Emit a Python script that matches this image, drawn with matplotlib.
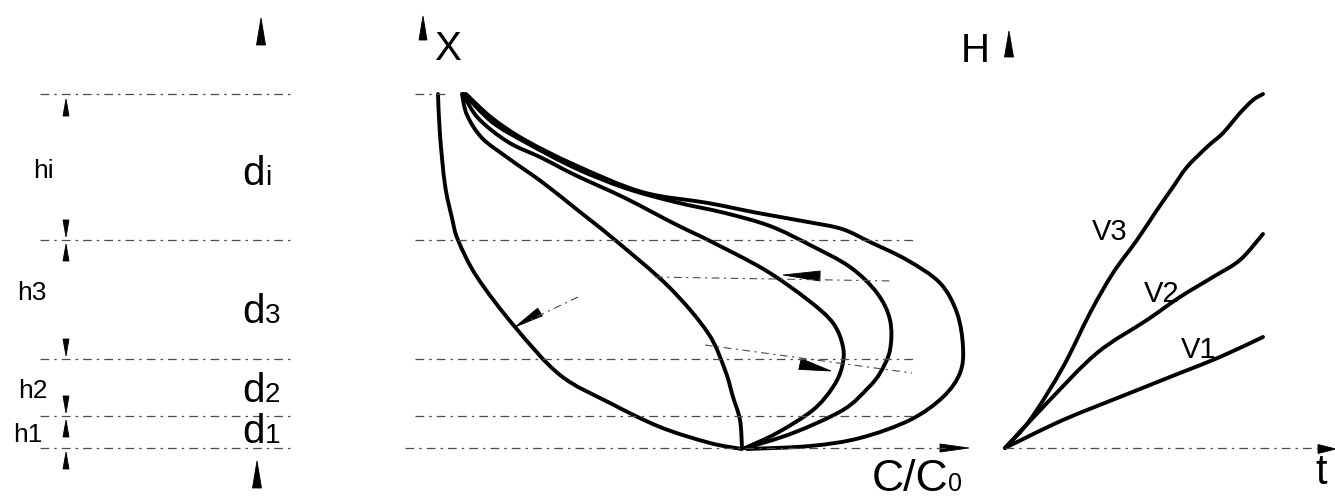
import numpy as np
import matplotlib
matplotlib.use('Agg')
import matplotlib.pyplot as plt
from matplotlib.path import Path
from matplotlib.patches import PathPatch, Polygon

plt.rcParams['font.family'] = ['Liberation Sans', 'DejaVu Sans']

# Layer boundaries (depth positions, drawing units)
layer_levels = [94, 240, 359, 416, 448]
layer_names = ['i', '3', '2', '1']

# Concentration profiles C/C0 versus depth X
curve_a_x = [438, 440, 445, 452, 458, 477, 515, 560, 610, 660, 710, 742]
curve_a_y = [94, 135, 185, 218, 240, 277, 327, 375, 403, 427, 443, 449]

curve_b_x = [462, 467, 482, 508, 542, 575, 615, 669, 708, 725, 733, 740, 742]
curve_b_y = [94, 115, 138, 158, 182, 208, 240, 287, 333, 370, 397, 420, 448]

curve_c_x = [463, 478, 508, 542, 575, 625, 675, 712, 765, 808, 833, 843, 842, 833, 813, 777, 745]
curve_c_y = [94, 118, 142, 158, 175, 198, 224, 242, 270, 300, 323, 347, 367, 387, 410, 433, 448]

curve_d_x = [464, 492, 525, 575, 625, 675, 725, 770, 810, 850, 877, 890, 890, 880, 868, 843, 793, 746]
curve_d_y = [94, 122, 142, 168, 188, 202, 213, 226, 245, 267, 293, 320, 350, 373, 388, 410, 433, 448]

curve_e_x = [466, 492, 525, 575, 642, 708, 758, 808, 842, 870, 907, 940, 957, 963, 960, 943, 910, 860, 810, 747]
curve_e_y = [94, 118, 140, 165, 192, 203, 213, 222, 229, 242, 260, 283, 313, 347, 373, 397, 420, 438, 446, 449]

# Height H versus time t for three velocities
v3_x = [1005, 1030, 1063, 1090, 1113, 1137, 1157, 1173, 1187, 1207, 1223, 1240, 1253, 1263]
v3_y = [448, 420, 367, 313, 273, 240, 210, 187, 167, 147, 133, 113, 100, 94]
v2_x = [1005, 1047, 1097, 1147, 1180, 1213, 1240, 1263]
v2_y = [448, 403, 353, 320, 297, 277, 260, 234]
v1_x = [1005, 1063, 1130, 1180, 1220, 1263]
v1_y = [448, 420, 393, 373, 357, 337]
velocity_names = ['V3', 'V2', 'V1']


def smooth_path(xs, ys):
    # Catmull-Rom through the points, expressed as cubic Bezier segments
    pts = np.column_stack([xs, ys]).astype(float)
    n = len(pts)
    verts = [pts[0]]
    codes = [Path.MOVETO]
    for i in range(n - 1):
        p0 = pts[max(i - 1, 0)]
        p1 = pts[i]
        p2 = pts[i + 1]
        p3 = pts[min(i + 2, n - 1)]
        verts += [p1 + (p2 - p0) / 6, p2 - (p3 - p1) / 6, p2]
        codes += [Path.CURVE4] * 3
    return Path(verts, codes)


def draw_curve(ax, xs, ys, lw=2.8):
    ax.add_patch(PathPatch(smooth_path(xs, ys), fill=False, lw=lw, edgecolor='black',
                           capstyle='round', joinstyle='round'))


def wedge(ax, tip, base, half_w):
    tip = np.array(tip, float)
    base = np.array(base, float)
    d = tip - base
    nrm = np.array([-d[1], d[0]]) / np.hypot(*d)
    ax.add_patch(Polygon([tip, base + nrm * half_w, base - nrm * half_w],
                         closed=True, facecolor='black', edgecolor='black', lw=0.6))


def dashed(ax, x0, x1, y0, y1=None, lw=0.9):
    if y1 is None:
        y1 = y0
    ax.plot([x0, x1], [y0, y1], color='0.3', lw=lw, dashes=(7, 4, 2, 4))


fig = plt.figure(figsize=(13.35, 4.98), dpi=100)
ax = fig.add_axes([0, 0, 1, 1])
ax.set_xlim(0, 1335)
ax.set_ylim(498, 0)
ax.axis('off')

# layer boundary lines
for i, y in enumerate(layer_levels):
    dashed(ax, 40, 290, y)
    if i == 0:
        dashed(ax, 415, 450, y)
    elif y == layer_levels[-1]:
        dashed(ax, 405, 945, y)
    else:
        dashed(ax, 415, 915, y)
dashed(ax, 1005, 1318, layer_levels[-1])

# dimension arrows for the layer thicknesses
ax_x = 66
wedge(ax, (ax_x, layer_levels[0] + 5), (ax_x, layer_levels[0] + 22), 3)
for y in layer_levels[1:4]:
    wedge(ax, (ax_x, y - 3), (ax_x, y - 20), 3)
for y in [layer_levels[1], layer_levels[3], layer_levels[4]]:
    wedge(ax, (ax_x, y + 4), (ax_x, y + 21), 3)

# axis arrowheads
wedge(ax, (261, 18), (261, 45), 4.5)
wedge(ax, (257, 461), (257, 488), 4.5)
wedge(ax, (423, 16), (423, 40), 4)
wedge(ax, (1009, 31), (1009, 57), 4.5)
wedge(ax, (969, 448), (940, 448), 4)
wedge(ax, (1336, 449), (1318, 449), 4.5)

# concentration profiles
for xs, ys in [(curve_a_x, curve_a_y), (curve_b_x, curve_b_y), (curve_c_x, curve_c_y),
               (curve_d_x, curve_d_y), (curve_e_x, curve_e_y)]:
    draw_curve(ax, xs, ys)

# shift arrows between profiles
dashed(ax, 578, 530, 297, 320, lw=0.8)
wedge(ax, (515, 327), (540, 312), 4.5)
dashed(ax, 655, 893, 277, 281, lw=0.8)
wedge(ax, (783, 275), (820, 276), 5)
dashed(ax, 705, 912, 345, 373, lw=0.8)
wedge(ax, (831, 371), (800, 364), 5.5)

# H-t curves
for xs, ys in [(v3_x, v3_y), (v2_x, v2_y), (v1_x, v1_y)]:
    draw_curve(ax, xs, ys)

# labels
ax.text(434, 60, 'X', fontsize=29, va='baseline')
ax.text(961, 62, 'H', fontsize=29, va='baseline')
ax.text(872, 491, 'C/C', fontsize=32, va='baseline')
ax.text(948, 491, '0', fontsize=18, va='baseline')
ax.text(1315, 484, 't', fontsize=30, va='baseline')

d_base = [185, 323, 402, 443]
h_pos = [(33, 178), (17, 300), (18, 398), (13, 442)]
for name, yb, (hx, hy) in zip(layer_names, d_base, h_pos):
    ax.text(242, yb, 'd', fontsize=29, va='baseline')
    ax.text(265, yb, name, fontsize=20, va='baseline')
    ax.text(hx, hy, 'h' + name, fontsize=19, va='baseline')

for name, (vx, vy) in zip(velocity_names, [(1092, 240), (1144, 302), (1181, 358)]):
    ax.text(vx, vy, name, fontsize=21, va='baseline')

fig.savefig('out.png', dpi=100)
